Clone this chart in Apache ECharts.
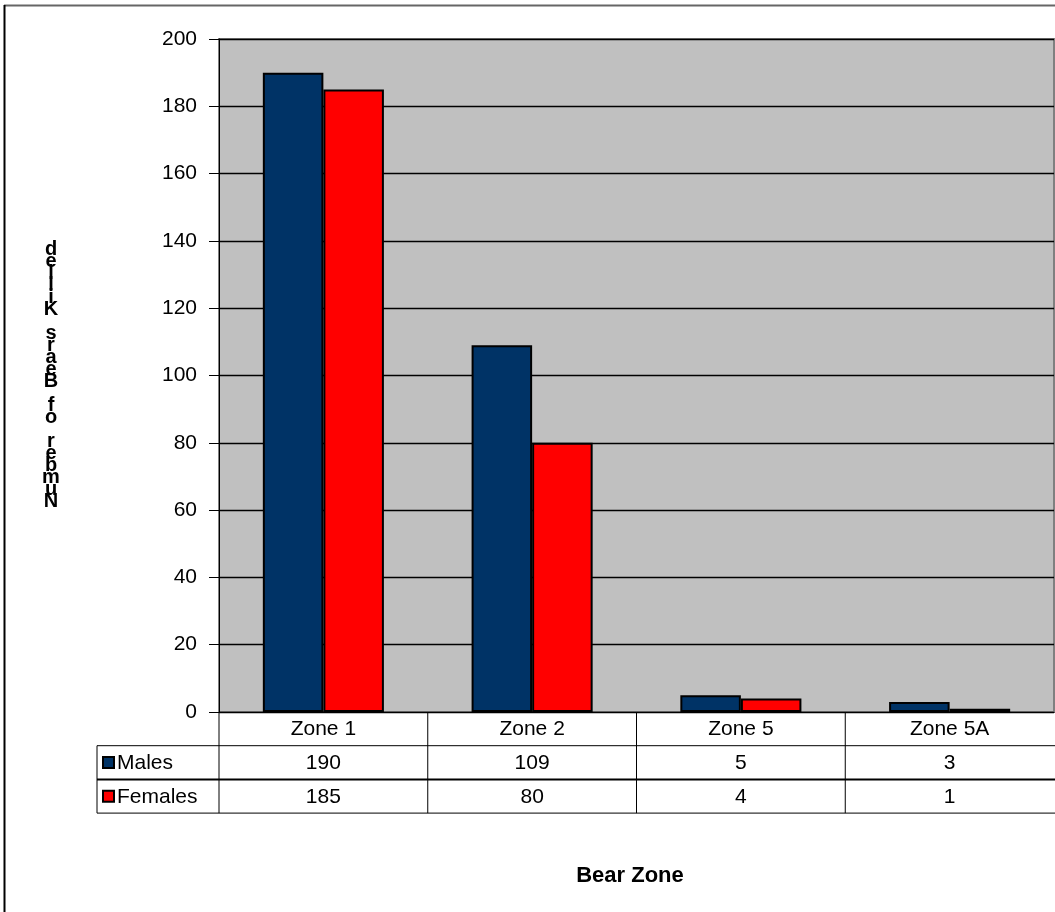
<!DOCTYPE html>
<html>
<head>
<meta charset="utf-8">
<style>
  html, body { margin: 0; padding: 0; background: #fff; }
  #chart { width: 1055px; height: 912px; }
</style>
<script src="https://cdn.jsdelivr.net/npm/echarts@6/dist/echarts.min.js"></script>
</head>
<body>
<div id="chart"></div>
<script>
// Bears killed per zone, by sex
const categories = ['Zone 1', 'Zone 2', 'Zone 5', 'Zone 5A'];
const seriesNames = ['Males', 'Females'];
const males = [190, 109, 5, 3];
const females = [185, 80, 4, 1];
const seriesColors = ['#003366', '#FF0000'];
const yTitle = 'Number of Bears Killed';
const xTitle = 'Bear Zone';
const yMin = 0, yMax = 200, yStep = 20;

const FONT = '"Liberation Sans", Arial, sans-serif';
const FS = 21;
const chart = echarts.init(document.getElementById('chart'), null, { renderer: 'canvas' });

const GRID = { left: 219, top: 39, right: 1, bottom: 200 };

chart.setOption({
  animation: false,
  backgroundColor: '#ffffff',
  grid: {
    left: GRID.left, top: GRID.top, right: GRID.right, bottom: GRID.bottom,
    show: true, backgroundColor: '#C0C0C0', borderColor: '#808080', borderWidth: 2
  },
  xAxis: {
    type: 'category',
    data: categories,
    axisLine: { show: true, lineStyle: { color: '#000', width: 1 } },
    axisTick: { show: false },
    axisLabel: { color: '#000', fontSize: FS, fontFamily: FONT, margin: 7 },
    splitLine: { show: false }
  },
  yAxis: {
    type: 'value',
    min: yMin, max: yMax, interval: yStep,
    axisLine: { show: true, lineStyle: { color: '#000', width: 1 } },
    axisTick: { show: true, length: 10, lineStyle: { color: '#000' } },
    axisLabel: { color: '#000', fontSize: FS, fontFamily: FONT, margin: 22 },
    splitLine: { show: true, lineStyle: { color: '#000', width: 1.3 } }
  },
  series: [
    {
      name: seriesNames[0], type: 'bar', data: males,
      barGap: '0%', barCategoryGap: '42%',
      itemStyle: { color: seriesColors[0], borderColor: '#000', borderWidth: 2 }
    },
    {
      name: seriesNames[1], type: 'bar', data: females,
      barGap: '0%', barCategoryGap: '42%',
      itemStyle: { color: seriesColors[1], borderColor: '#000', borderWidth: 2 }
    }
  ]
});

// Data table under the plot, aligned to the category bands
function buildTable() {
  const x0 = chart.convertToPixel({ xAxisIndex: 0 }, 0);
  const x1 = chart.convertToPixel({ xAxisIndex: 0 }, 1);
  const band = x1 - x0;
  const baseY = chart.convertToPixel({ yAxisIndex: 0 }, 0);
  const plotLeft = GRID.left;
  const rowH = 33.7;
  const keyLeft = 97;
  const rows = [males, females];
  const g = [];
  const line = (xa, ya, xb, yb, w) => g.push({
    type: 'line', shape: { x1: xa, y1: ya, x2: xb, y2: yb },
    style: { stroke: '#000', lineWidth: w || 1 }, z: 10
  });

  // horizontal rules
  line(keyLeft, baseY + rowH, 1055, baseY + rowH, 1);
  line(keyLeft, baseY + 2 * rowH, 1055, baseY + 2 * rowH, 2);
  line(keyLeft, baseY + 3 * rowH, 1055, baseY + 3 * rowH, 1);
  // vertical rules
  line(keyLeft, baseY + rowH, keyLeft, baseY + 3 * rowH, 1);
  for (let i = 0; i < categories.length; i++) {
    const xb = plotLeft + i * band;
    line(xb, baseY, xb, baseY + 3 * rowH, 1);
  }

  // row keys
  seriesNames.forEach((name, r) => {
    const cy = baseY + rowH * (r + 1.5);
    g.push({
      type: 'rect', shape: { x: 103, y: cy - 5.5, width: 11, height: 11 },
      style: { fill: seriesColors[r], stroke: '#000', lineWidth: 2 }, z: 11
    });
    g.push({
      type: 'text', x: 117, y: cy + 1,
      style: { text: name, fill: '#000', font: FS + 'px ' + FONT, align: 'left', verticalAlign: 'middle' }, z: 11
    });
    rows[r].forEach((v, i) => {
      const cx = chart.convertToPixel({ xAxisIndex: 0 }, i);
      g.push({
        type: 'text', x: cx, y: cy + 1,
        style: { text: String(v), fill: '#000', font: FS + 'px ' + FONT, align: 'center', verticalAlign: 'middle' }, z: 11
      });
    });
  });

  // vertical axis title: upright letters stacked from bottom to top
  g.push({
    type: 'text', x: 51, y: 243,
    style: {
      text: yTitle.split('').reverse().join('\n'),
      fill: '#000', font: 'bold 20px ' + FONT, lineHeight: 12,
      align: 'center', verticalAlign: 'top'
    }, z: 11
  });

  // category axis title
  g.push({
    type: 'text', x: 630, y: 876,
    style: { text: xTitle, fill: '#000', font: 'bold 22px ' + FONT, align: 'center', verticalAlign: 'middle' }, z: 11
  });

  // chart frame
  g.push({ type: 'line', shape: { x1: 4, y1: 5.5, x2: 1055, y2: 5.5 }, style: { stroke: '#666', lineWidth: 2 }, z: 12 });
  g.push({ type: 'line', shape: { x1: 4.5, y1: 5, x2: 4.5, y2: 912 }, style: { stroke: '#000', lineWidth: 2 }, z: 12 });

  chart.setOption({ graphic: g });
}
buildTable();
</script>
</body>
</html>
